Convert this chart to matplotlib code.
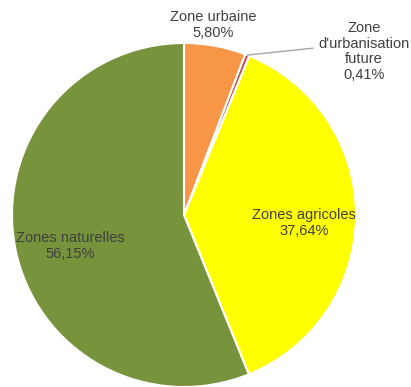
import numpy as np
import matplotlib
matplotlib.use('Agg')
import matplotlib.pyplot as plt

plt.rcParams['font.family'] = ['Liberation Sans', 'DejaVu Sans']

# land use shares (%)
zones = ['Zone urbaine', "Zone\nd'urbanisation\nfuture", 'Zones agricoles', 'Zones naturelles']
shares = [5.80, 0.41, 37.64, 56.15]
colors = ['#F79646', '#C0504D', '#FFFF00', '#77933C']

# label centres in pie coordinates (radius 1)
label_pos = [(0.17, 1.105), (1.045, 0.95), (0.70, -0.045), (-0.66, -0.18)]

fig = plt.figure(figsize=(4.11, 3.87), dpi=100)
ax = fig.add_axes([12 / 411, 0, 344 / 411, 344 / 387])

wedges, _ = ax.pie(shares, colors=colors, startangle=90, counterclock=False,
                   radius=1, wedgeprops=dict(edgecolor='white', linewidth=1.5))
ax.set_xlim(-1, 1)
ax.set_ylim(-1, 1)
ax.set_aspect('equal')
ax.axis('off')

for name, val, (x, y) in zip(zones, shares, label_pos):
    txt = name + '\n' + f'{val:.2f}'.replace('.', ',') + '%'
    ax.text(x, y, txt, ha='center', va='center', fontsize=10.5,
            color='#404040', linespacing=1.15, clip_on=False)

# leader line for the tiny slice
w = wedges[1]
mid = np.deg2rad((w.theta1 + w.theta2) / 2)
ax.plot([np.cos(mid), 0.75], [np.sin(mid), 0.97], color='#a6a6a6',
        linewidth=1, clip_on=False)

fig.savefig('out.png', dpi=100)
